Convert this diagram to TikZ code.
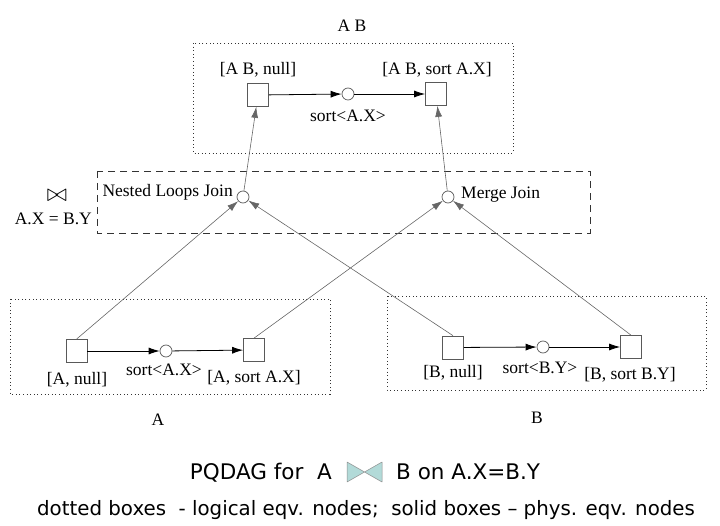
\documentclass[tikz,border=0pt]{standalone}
\usepackage{fontspec}
\setmainfont{Liberation Serif}
\newfontfamily\capfont{DejaVu Sans}
\usetikzlibrary{arrows.meta}
\definecolor{tieteal}{RGB}{178,218,216}
\begin{document}
\begin{tikzpicture}[x=1pt,y=-1pt,
  sq/.style={draw=black!65, line width=0.7pt, minimum width=21pt, minimum height=23pt, inner sep=0pt},
  op/.style={circle, draw=black!65, line width=0.7pt, minimum size=12pt, inner sep=0pt},
  lbl/.style={font=\fontsize{17.5}{20}\selectfont, inner sep=0pt},
  harr/.style={draw=black, line width=0.8pt, -{Latex[length=11pt,width=7pt]}},
  varr/.style={draw=black!60, line width=0.6pt, -{Latex[length=11pt,width=7pt]}},
  lgroup/.style={draw=black!80, line width=0.9pt, dash pattern=on 1pt off 2.6pt},
  jgroup/.style={draw=black!80, line width=0.8pt, dash pattern=on 7pt off 5pt},
  cap1/.style={font=\capfont\fontsize{21.5}{24}\selectfont, inner sep=0pt},
  cap2/.style={font=\capfont\fontsize{19.8}{22}\selectfont, inner sep=0pt},
]
\useasboundingbox (0,0) rectangle (720,526);

% group boxes
\draw[lgroup] (193,43) rectangle (513,153);
\draw[jgroup] (97,171) rectangle (590,233);
\draw[lgroup] (10,299) rectangle (330,394);
\draw[lgroup] (387,296) rectangle (706,390);

% group labels
\node[lbl] (gab) at (352,26) {A B};
\node[lbl] (ga) at (158,420) {A};
\node[lbl] (gb) at (537,418) {B};
\node[font=\fontsize{24}{26}\selectfont, inner sep=0pt] (bt) at (57,196) {$\bowtie$};
\node[lbl, anchor=base east] (cond) at (92,225) {A.X = B.Y};

% top group
\node[sq] (abn) at (258,95) {};
\node[op] (abs) at (348,94) {};
\node[sq] (abx) at (436,94) {};
\node[lbl] (labn) at (258,70) {[A B, null]};
\node[lbl] (labs) at (348,116) {sort<A.X>};
\node[lbl] (labx) at (437,70) {[A B, sort A.X]};

% joins
\node[op] (nlj) at (243,197) {};
\node[op] (mj) at (448,197) {};
\node[lbl, anchor=east] (lnlj) at (233,192) {Nested Loops Join};
\node[lbl, anchor=west] (lmj) at (461,195) {Merge Join};

% group A
\node[sq] (an) at (76.5,351) {};
\node[op] (as) at (166,351) {};
\node[sq] (ax) at (254,350) {};
\node[lbl] (lan) at (77,380) {[A, null]};
\node[lbl] (las) at (164,370) {sort<A.X>};
\node[lbl] (lax) at (254,378) {[A, sort A.X]};

% group B
\node[sq] (bn) at (453,347.5) {};
\node[op] (bs) at (543,347) {};
\node[sq] (bx) at (631,347) {};
\node[lbl] (lbn) at (453,373) {[B, null]};
\node[lbl] (lbs) at (540,368) {sort<B.Y>};
\node[lbl] (lbx) at (630,375) {[B, sort B.Y]};

% connectors
\draw[harr] (abn) -- (abs);
\draw[harr] (abs) -- (abx);
\draw[harr] (an) -- (as);
\draw[harr] (as) -- (ax);
\draw[harr] (bn) -- (bs);
\draw[harr] (bs) -- (bx);
\draw[varr] (nlj) -- (abn);
\draw[varr] (mj) -- (abx);
\draw[varr] (an.north) -- (nlj);
\draw[varr] (bn.north) -- (nlj);
\draw[varr] (ax.north) -- (mj);
\draw[varr] (bx.north) -- (mj);

% caption
\node[cap1, anchor=base east] (c1a) at (332,479) {PQDAG for\ \ A};
\draw[draw=black!45, fill=tieteal, line width=0.5pt, line join=round]
  (347,462) -- (364.5,472) -- (347,482) -- cycle
  (382,462) -- (364.5,472) -- (382,482) -- cycle;
\node[cap1, anchor=base west] (c1b) at (396,479) {B on A.X=B.Y};
\node[cap2, anchor=base] (c2) at (366,515) {dotted boxes\ \ - logical eqv. nodes;\ \ solid boxes – phys. eqv. nodes};
\end{tikzpicture}
\end{document}
